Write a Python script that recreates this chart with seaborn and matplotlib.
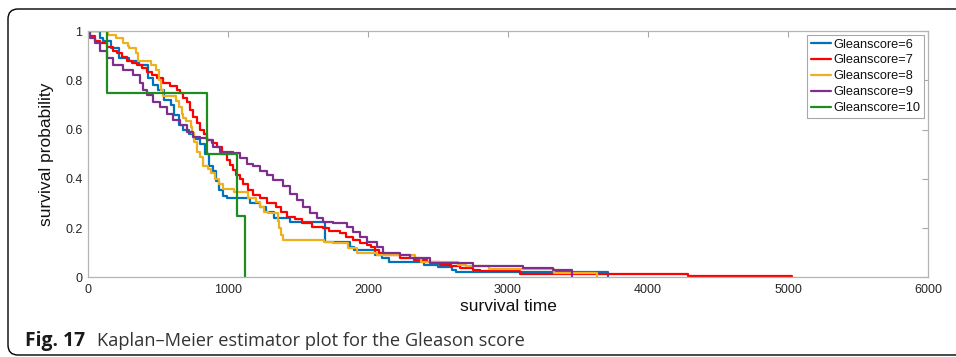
import numpy as np
import pandas as pd
import seaborn as sns
import matplotlib
matplotlib.use("Agg")
import matplotlib.pyplot as plt
from matplotlib.patches import FancyBboxPatch
from matplotlib.transforms import IdentityTransform

# ---------------- data ----------------
labels = ["Gleanscore=6", "Gleanscore=7", "Gleanscore=8", "Gleanscore=9", "Gleanscore=10"]

t6 = [0, 86, 107, 164, 221, 293, 364, 429, 464, 500, 543, 593, 614, 650, 680, 720, 757, 800,
      836, 864, 893, 914, 936, 964, 993, 1160, 1230, 1270, 1330, 1440, 1690, 1870, 1900, 2050,
      2100, 2150, 2400, 2500, 2600, 2630, 3714]
s6 = [1.0, 0.97, 0.96, 0.93, 0.89, 0.88, 0.86, 0.81, 0.78, 0.76, 0.72, 0.70, 0.66, 0.62, 0.60,
      0.58, 0.56, 0.54, 0.50, 0.45, 0.43, 0.39, 0.355, 0.33, 0.32, 0.30, 0.285, 0.265, 0.24,
      0.225, 0.145, 0.125, 0.11, 0.09, 0.08, 0.062, 0.05, 0.04, 0.03, 0.02, 0.0]

t7 = [0, 15, 50, 86, 136, 179, 207, 243, 279, 315, 350, 386, 421, 457, 493, 536, 586, 636, 657,
      680, 707, 730, 750, 775, 800, 825, 850, 885, 921, 957, 993, 1015, 1036, 1060, 1086, 1110,
      1140, 1180, 1230, 1280, 1340, 1380, 1420, 1480, 1530, 1600, 1680, 1720, 1800, 1840, 1890,
      1940, 1990, 2020, 2050, 2080, 2120, 2229, 2330, 2421, 2514, 2590, 2657, 2750, 2800, 3086,
      4286, 5030]
s7 = [1.0, 0.98, 0.96, 0.95, 0.935, 0.92, 0.91, 0.895, 0.88, 0.87, 0.86, 0.85, 0.835, 0.82, 0.81,
      0.79, 0.775, 0.76, 0.75, 0.73, 0.71, 0.68, 0.65, 0.625, 0.60, 0.58, 0.557, 0.545, 0.53,
      0.50, 0.475, 0.455, 0.435, 0.415, 0.40, 0.38, 0.355, 0.335, 0.32, 0.30, 0.285, 0.265,
      0.245, 0.235, 0.22, 0.205, 0.20, 0.19, 0.18, 0.165, 0.15, 0.14, 0.13, 0.125, 0.11, 0.10,
      0.09, 0.08, 0.07, 0.062, 0.05, 0.045, 0.037, 0.03, 0.025, 0.012, 0.005, 0.005]

t8 = [0, 143, 200, 250, 286, 293, 343, 357, 450, 486, 507, 521, 536, 629, 650, 670, 679, 700,
      736, 743, 757, 779, 800, 821, 857, 879, 907, 936, 964, 1043, 1143, 1200, 1229, 1257, 1286,
      1357, 1364, 1379, 1393, 1686, 1750, 1860, 1920, 2064, 2336, 2380, 2640, 2700, 2864, 3329,
      3636]
s8 = [1.0, 0.985, 0.97, 0.95, 0.94, 0.93, 0.91, 0.88, 0.86, 0.84, 0.80, 0.76, 0.735, 0.715,
      0.69, 0.665, 0.647, 0.635, 0.61, 0.585, 0.55, 0.51, 0.49, 0.45, 0.44, 0.425, 0.40, 0.38,
      0.36, 0.345, 0.32, 0.305, 0.285, 0.265, 0.26, 0.23, 0.20, 0.17, 0.15, 0.145, 0.14, 0.12,
      0.10, 0.09, 0.078, 0.062, 0.05, 0.046, 0.034, 0.016, 0.0]

t9 = [0, 14, 50, 86, 136, 179, 250, 321, 371, 393, 421, 464, 514, 564, 607, 657, 707, 750, 800,
      850, 893, 943, 1036, 1086, 1136, 1179, 1229, 1279, 1321, 1393, 1443, 1493, 1536, 1586,
      1636, 1679, 1750, 1850, 1893, 1943, 1993, 2064, 2107, 2230, 2300, 2440, 2750, 3107, 3321,
      3460]
s9 = [1.0, 0.97, 0.95, 0.92, 0.89, 0.86, 0.84, 0.82, 0.79, 0.76, 0.74, 0.71, 0.69, 0.665, 0.64,
      0.62, 0.59, 0.57, 0.565, 0.557, 0.53, 0.51, 0.505, 0.485, 0.46, 0.45, 0.43, 0.415, 0.395,
      0.37, 0.34, 0.315, 0.285, 0.26, 0.24, 0.225, 0.22, 0.205, 0.185, 0.165, 0.145, 0.125, 0.10,
      0.09, 0.08, 0.06, 0.046, 0.037, 0.03, 0.0]

t10 = [0, 138, 848, 1062, 1124]
s10 = [1.0, 0.75, 0.5, 0.25, 0.0]

colors = ["#0072BD", "#FF0000", "#EDB120", "#7E2F8E", "#1E8C1E"]

xticks = [0, 1000, 2000, 3000, 4000, 5000, 6000]
yticks = [0, 0.2, 0.4, 0.6, 0.8, 1]
ytick_labels = ["0", "0.2", "0.4", "0.6", "0.8", "1"]

# ---------------- build table ----------------
frames = []
for lab, t, s in zip(labels, [t6, t7, t8, t9, t10], [s6, s7, s8, s9, s10]):
    assert len(t) == len(s), lab
    frames.append(pd.DataFrame({"time": t, "surv": s, "group": lab}))
df = pd.concat(frames, ignore_index=True)

# ---------------- figure ----------------
sns.set_theme(style="white")
plt.rcParams["font.family"] = ["Liberation Sans", "DejaVu Sans"]

W, H = 956, 357
fig = plt.figure(figsize=(W / 100, H / 100), dpi=100)
fig.patch.set_facecolor("white")

x0, x1 = 88, 928
y0, y1 = 277.3, 31
ax = fig.add_axes([x0 / W, 1 - y0 / H, (x1 - x0) / W, (y0 - y1) / H])

sns.lineplot(data=df, x="time", y="surv", hue="group", hue_order=labels,
             palette=colors, drawstyle="steps-post", estimator=None, sort=False,
             linewidth=1.6, ax=ax)

ax.set_xlim(0, 6000)
ax.set_ylim(0, 1)
ax.set_xticks(xticks)
ax.set_xticklabels([str(v) for v in xticks])
ax.set_yticks(yticks)
ax.set_yticklabels(ytick_labels)

for sp in ax.spines.values():
    sp.set_visible(True)
    sp.set_color("#b4b4b4")
    sp.set_linewidth(0.9)

ax.tick_params(axis="both", direction="in", length=4, width=0.8, color="#a8a8a8",
               labelcolor="#262626", labelsize=9, top=True, right=True)
ax.tick_params(axis="x", pad=5)
ax.tick_params(axis="y", pad=4)

ax.set_xlabel("survival time", fontsize=12.5, color="#111111", labelpad=2)
ax.set_ylabel("survival probability", fontsize=12.5, color="#111111", labelpad=8)

handles, labs = ax.get_legend_handles_labels()
leg = ax.legend(handles, labs, loc="upper right", fontsize=9.2, frameon=True, fancybox=False,
                framealpha=1, edgecolor="#a8a8a8", borderaxespad=0.3, handlelength=1.55,
                handletextpad=0.2, labelspacing=0.3, borderpad=0.3)
leg.get_frame().set_linewidth(0.8)
for txt in leg.get_texts():
    txt.set_color("#111111")

# rounded frame around the figure (extends past the right edge)
frame = FancyBboxPatch((8, 2), 1000, 346, boxstyle="round,pad=0,rounding_size=10",
                       transform=IdentityTransform(), fill=False, edgecolor="black",
                       linewidth=1.0)
fig.patches.append(frame)

# caption
cap_font = ["Open Sans", "DejaVu Sans"]
t1 = fig.text(25 / W, (H - 346) / H, "Fig. 17", fontsize=12, fontweight="bold",
              family=cap_font, color="#1a1a1a", va="baseline", ha="left")
t2 = fig.text(97 / W, (H - 346) / H, "Kaplan–Meier estimator plot for the Gleason score",
              fontsize=12, family=cap_font, color="#333333", va="baseline", ha="left")
fig.canvas.draw()
r = fig.canvas.get_renderer()
w1 = t1.get_window_extent(r).width
t1.set_fontsize(12 * 60 / w1)
w2 = t2.get_window_extent(r).width
t2.set_fontsize(12 * 426 / w2)

fig.savefig("out.png", dpi=100)
